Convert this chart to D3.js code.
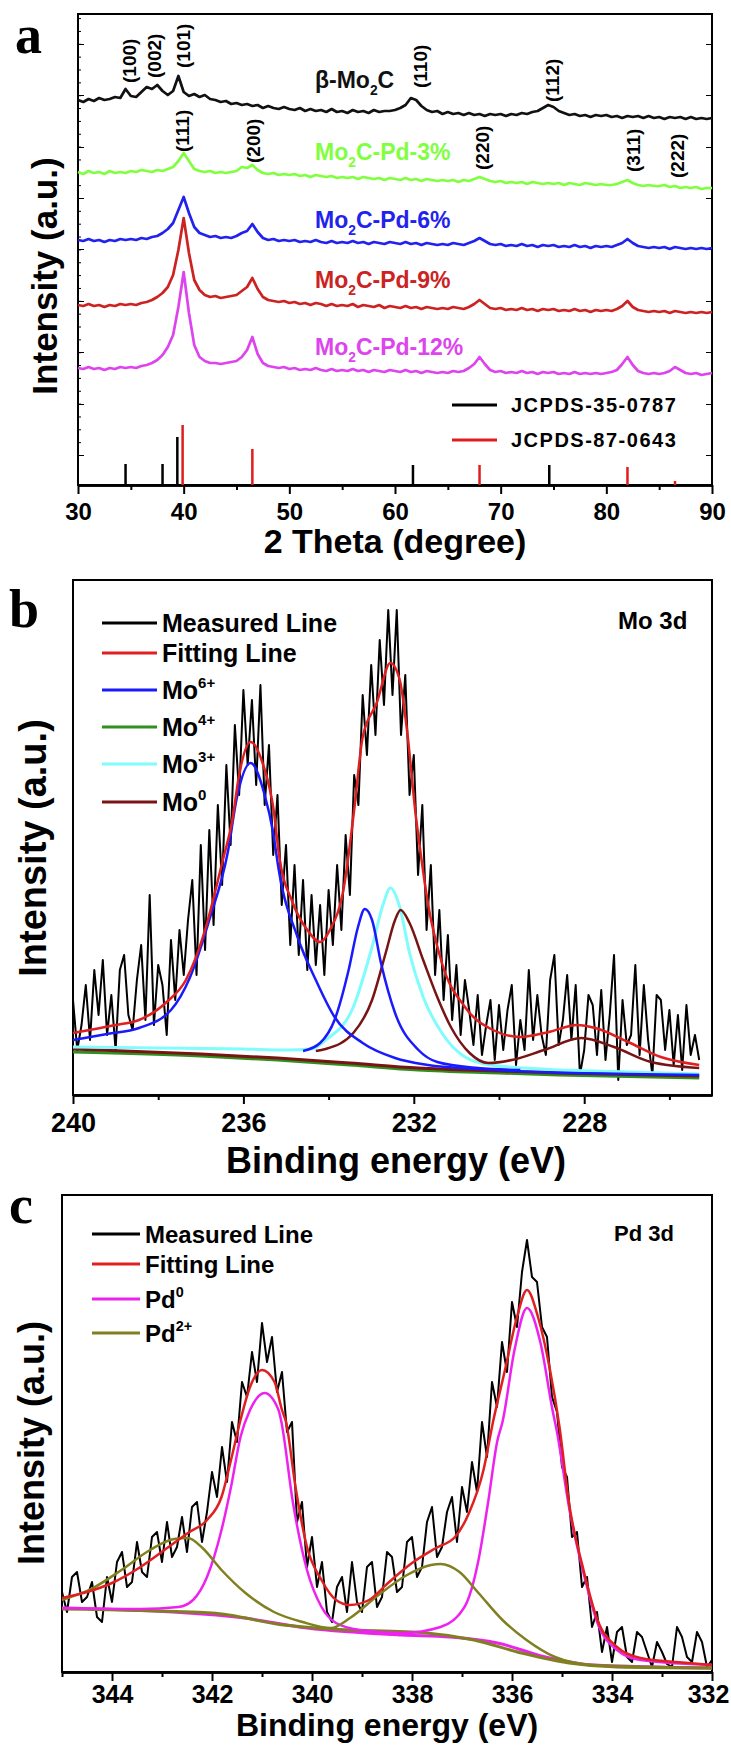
<!DOCTYPE html>
<html>
<head>
<meta charset="utf-8">
<script src="https://cdn.jsdelivr.net/npm/d3@7/dist/d3.min.js"></script>
<style>
body { margin: 0; background: #fff; }
svg text { font-family: "Liberation Sans", Arial, sans-serif; font-weight: bold; }
</style>
</head>
<body>
<div id="chart"></div>
<script>
// ---------- panel a : XRD ----------
const xrdTheta = d3.range(30, 90.25, 0.5);   // 0.5 degree sampling
const xrdBeta = [385,383,386,384,387,385,386,388,387,396, 389,388,393,398,396,400,394,390,394,409,
  393,389,391,388,390,386,385,383,384,381, 382,380,381,379,380,377,379,377,376,378,
  376,375,377,374,376,374,375,373,376,373, 374,372,375,373,374,372,375,373,374,374,
  375,377,380,387,385,379,375,373,374,371, 373,371,372,370,372,370,371,369,371,370,
  371,369,371,370,372,371,373,374,377,380, 378,374,372,370,371,369,370,368,370,369,
  370,368,369,367,369,368,369,367,369,367, 368,366,368,367,368,366,368,366,367,366, 367];
const xrdPd3 = [313,311,314,312,313,311,314,312,313,312, 314,313,315,314,313,315,314,316,318,324,
  332,324,316,314,313,314,312,313,312,313, 314,318,317,320,315,312,311,312,310,311,
  310,311,309,310,308,310,309,308,309,307, 308,307,308,306,308,307,306,307,305,307,
  306,305,307,305,306,304,306,305,304,305, 304,305,303,305,304,306,308,306,304,303,
  304,302,303,302,303,301,303,302,301,302, 301,302,300,302,301,300,302,301,300,301,
  300,300,301,303,305,302,300,299,300,299, 299,300,298,299,297,298,297,298,296,297, 297];
const xrdPd6 = [245,244,246,244,245,243,245,244,246,245, 246,245,247,246,248,249,252,256,262,275,
  288,272,258,252,250,248,249,247,248,247, 249,252,254,261,253,247,245,246,244,245,
  244,245,243,244,243,245,243,242,244,242, 243,242,244,242,243,241,243,242,241,243,
  242,241,243,241,242,240,242,241,240,241, 240,242,241,240,242,244,247,244,241,240,
  241,239,240,239,241,239,240,238,240,239, 240,238,239,238,240,238,239,237,239,238,
  239,238,240,242,246,242,239,238,237,238, 237,238,236,238,237,236,237,236,237,236, 237];
const xrdPd9 = [180,179,181,179,180,178,180,179,181,180, 181,180,182,183,185,188,192,198,210,235,
  267,232,205,195,190,188,189,187,188,189, 190,194,198,207,196,188,185,184,183,184,
  182,183,181,182,180,182,181,179,181,179, 180,179,181,178,180,179,178,180,177,179,
  178,177,179,177,178,176,178,177,176,177, 176,178,177,176,178,181,185,181,177,176,
  177,175,176,175,177,175,176,174,176,175, 176,174,175,174,176,174,175,173,175,174,
  175,174,176,179,184,178,175,174,173,174, 173,174,172,174,173,172,173,172,173,172, 173];
const xrdPd12 = [117,116,118,116,117,115,117,116,118,117, 118,117,119,120,122,125,130,138,150,178,
  213,172,140,128,124,122,122,121,122,123, 124,128,135,148,131,122,119,118,117,118,
  116,117,115,116,115,117,115,114,116,114, 115,114,116,114,115,113,115,114,113,115,
  114,113,115,113,114,112,114,113,112,113, 112,114,113,114,117,121,128,121,115,113,
  114,112,113,112,114,112,113,111,113,112, 113,111,112,111,113,111,112,111,112,111,
  112,113,115,121,128,120,114,112,111,112, 111,112,114,118,115,112,111,112,110,111, 112];
const xrdNames = ["β-Mo2C", "Mo2C-Pd-3%", "Mo2C-Pd-6%", "Mo2C-Pd-9%", "Mo2C-Pd-12%"];
const xrdColors = ["#111111", "#80ff40", "#2222ee", "#cc2222", "#dd44ee"];
const refBlackTheta = [34.5, 38.0, 39.4, 61.7, 74.6];
const refBlackHeight = [21, 21, 48, 20, 20];
const refRedTheta = [39.9, 46.5, 68.0, 82.0, 86.5];
const refRedHeight = [60, 36, 20, 18, 4];
const refNames = ["JCPDS-35-0787", "JCPDS-87-0643"];
const millerA = [["(100)", 34.9, 402], ["(002)", 37.2, 407], ["(101)", 40.0, 417], ["(110)", 62.4, 397],
  ["(112)", 74.9, 383], ["(111)", 39.9, 333], ["(200)", 46.6, 322], ["(220)", 68.3, 315],
  ["(311)", 82.6, 313], ["(222)", 86.7, 307]];
const xrdTicks = [30, 40, 50, 60, 70, 80, 90];

// ---------- panel b : Mo 3d ----------
const moE = d3.range(240, 225.25, -0.1);   // 0.1 eV sampling
const moMeasured = [95,45,70,110,55,125,80,135,60,100, 45,125,140,80,65,115,150,75,200,70,
  130,110,60,155,95,165,120,175, 215,120, 250,145,265,170,290,210,330,250,370,300,
  405,330,395,310,410,290,350,240,300,190, 250,150,230,140,215,125,200,130,190,120,
  205,150,230,165,260,200,320,290,400,340, 430,360,455,390,485,400,485,360,420,300,
  340,220,290,165,230,120,185,95,160,75,
  130,60,115,85,50,100,40,70,95,35, 90,45,85,110,30,75,45,125,55,100,
  60,40,115,140,50,75,120,55,110,20, 45,100,90,40,105,35,80,140,15,95,
  50,60,130,40,110,55,20,100,95,45, 85,30,80,25,90,40,60,35];
const moFit = [[240,62],[239,70],[238.45,75],[237.8,93],[237.35,115],[236.9,165],[236.5,232],[236.26,275],
  [236.1,320],[235.83,353],[235.55,332],[235.28,282],[235.17,242],[234.84,192],[234.5,165],[234.2,153],
  [233.97,165],[233.64,208],[233.4,285],[233.2,358],[232.87,392],[232.55,432],[232.33,415],[232.16,365],
  [231.95,278],[231.84,242],[231.67,192],[231.34,132],[230.8,88],[230.14,65],[229.5,58],[228.83,63],
  [228.17,70],[227.74,67],[226.97,53],[226.2,38],[225.3,30]];
const moSix = [[240,55],[239.2,61],[238.45,67],[237.7,85],[237.25,118],[236.8,175],[236.37,242],[236.15,298],
  [235.83,332],[235.5,300],[235.3,262],[235.17,225],[234.73,158],[234.3,115],[233.86,78],[233.2,52],
  [232.44,37],[231.67,30],[230.5,26],[229,23],[227,21],[225.3,20]];
const moSixB = [[234.6,44],[234.2,52],[233.86,75],[233.53,125],[233.31,168],[233.15,186],[232.98,175],
  [232.77,132],[232.44,82],[231.89,45],[231.45,33],[230.5,27],[229.5,25]];
const moFour = [[240,43],[237,39],[235.2,35],[233.5,30],[231.9,25],[230,22],[228.6,20],[225.3,17]];
const moThree = [[240,48],[238,47],[236,46],[235,45],[234.4,46],[234.07,55],[233.42,88],[232.98,148],
  [232.71,192],[232.55,207],[232.33,188],[232.1,142],[231.78,98],[231.34,62],[230.8,38],[230.2,30],
  [229,26],[227,23],[225.3,21]];
const moZeroBg = [[240,46],[237,41],[235.2,37],[233.5,32],[231.9,27],[230,24],[228.6,22],[225.3,19]];
const moZero = [[234.3,44],[234.07,46],[233.42,62],[232.98,95],[232.66,142],[232.44,175],[232.31,185],
  [232.1,172],[231.78,135],[231.45,98],[231.13,68],[230.69,42],[230.25,32],[229.7,35],[228.94,45],
  [228.07,57],[227.3,48],[226.43,33],[225.3,27]];
const moLegend = ["Measured Line", "Fitting Line", "Mo^6+", "Mo^4+", "Mo^3+", "Mo^0"];
const moColors = ["#000000", "#e02020", "#1a1aff", "#2f8f1f", "#80fcfc", "#781414"];
const moTicks = [240, 236, 232, 228];
const moMinor = [238, 234, 230, 226];

// ---------- panel c : Pd 3d ----------
const pdE = d3.range(345, 331.95, -0.1);   // 0.1 eV sampling
const pdMeasured = [80,60,95,100,70,75,90,55,50,95, 70,110,120,85,90,130,100,95,135,140,
  110,150,115,125,155,120,165,170,130,160, 200,175,225,190,250,230,290,275,320,290,
  349,310,335,280,300,240,250,150,170,105, 135,85,110,60,50,85,95,60,110,70,
  60,105,110,65,75,120,115,80,85,130, 135,95,105,150,165,115,125,160,175,130,
  185,160,210,180,250,215,290,265,330,300, 370,345,400,432,395,390,345,335,275,260,
  205,195,135,140, 85,95,45,60,20,45,10,40,45,15, 10,40,35,20,5,30,20,8,5,45,
  35,15,10,40,30,5,12];
const pdFit = [[345,74],[344.5,80],[344,89],[343.43,105],[342.95,122],[342.48,139],[342.1,152],[341.81,175],
  [341.62,212],[341.43,252],[341.24,285],[341,302],[340.75,290],[340.6,262],[340.52,250],[340.33,185],
  [340.1,125],[339.81,92],[339.52,72],[339.24,67],[338.86,72],[338.48,89],[338,109],[337.52,124],
  [337.14,135],[336.86,159],[336.57,202],[336.38,250],[336.14,302],[335.9,355],[335.7,382],[335.48,355],
  [335.24,302],[335.05,245],[334.86,169],[334.57,102],[334.29,52],[333.9,25],[333.43,14],[332.48,9],[332,7]];
const pdZero = [[345,64],[343.43,63],[342.67,65],[342.38,72],[342.1,95],[341.81,142],[341.62,185],[341.43,235],
  [341.24,262],[340.95,279],[340.67,262],[340.62,252],[340.38,169],[340.1,102],[339.81,65],[339.52,49],
  [339.05,42],[338.19,39],[337.43,45],[336.95,65],[336.67,112],[336.48,169],[336.29,232],[336.19,250],
  [335.95,322],[335.7,364],[335.43,329],[335.19,262],[335.1,240],[334.86,165],[334.57,99],[334.29,49],
  [333.9,22],[333.43,12],[332,7]];
const pdZeroBg = [[345,64],[341.52,55],[340.1,44],[338.2,37],[337.24,35],[336.29,29],[335.33,15],[334.38,7],[332,4]];
const pdTwo = [[345,72],[344.38,84],[343.81,102],[343.24,122],[342.76,133],[342.48,134],[342.19,124],[341.81,102],
  [341.33,79],[340.76,60],[340.19,50],[339.62,44],[339.24,54],[338.67,77],[338.1,97],[337.62,107],
  [337.43,108],[337.05,100],[336.67,79],[336.19,52],[335.71,32],[335.14,15],[334.38,7],[332,4]];
const pdTwoBg = [[345,63],[342,59],[340.57,47],[339.62,43],[337.71,39],[336.76,32],[335.81,19],[334.86,9],[333.9,5],[332,4]];
const pdLegend = ["Measured Line", "Fitting Line", "Pd^0", "Pd^2+"];
const pdColors = ["#000000", "#e02020", "#ee22ee", "#808020"];
const pdTicks = [344, 342, 340, 338, 336, 334, 332];
const pdMinor = [345, 343, 341, 339, 337, 335, 333];

function createVisualization() {
    const svg = d3.select("#chart").append("svg")
        .attr("width", 731).attr("height", 1745);

    // text with sub/superscript parts: segs = [[text, 0|1|-1]]
    function rich(text, segs, size) {
        let cur = 0;
        segs.forEach(function(s) {
            const off = s[1] === 1 ? -0.45 * size : s[1] === -1 ? 0.32 * size : 0;
            text.append("tspan").attr("dy", off - cur)
                .style("font-size", (s[1] ? 0.6 * size : size) + "px").text(s[0]);
            cur = off;
        });
    }

    function makePanel(left, top, w, h, xDom, yMax) {
        const g = svg.append("g").attr("transform", "translate(" + left + "," + top + ")");
        const x = d3.scaleLinear().domain(xDom).range([0, w]);
        const y = d3.scaleLinear().domain([0, yMax]).range([h, 0]);
        return { g: g, x: x, y: y, w: w, h: h };
    }

    function frame(p) {
        p.g.append("rect").attr("width", p.w).attr("height", p.h)
            .attr("fill", "none").attr("stroke", "#000").attr("stroke-width", 2);
    }

    function bottomAxis(p, majors, minors, fontSize, pad) {
        const ax = p.g.append("g").attr("transform", "translate(0," + p.h + ")");
        ax.append("g").call(d3.axisBottom(p.x).tickValues(minors).tickSize(5).tickSizeOuter(0).tickFormat(""));
        ax.append("g").call(d3.axisBottom(p.x).tickValues(majors).tickSize(9).tickSizeOuter(0).tickPadding(pad))
            .selectAll("text").style("font-size", fontSize + "px").attr("fill", "#000");
        ax.selectAll(".domain").attr("stroke-width", 2.5);
        ax.selectAll(".tick line").attr("stroke-width", 2);
        return ax;
    }

    function curve(p, data, color, width, smooth) {
        const line = d3.line().x(function(d) { return p.x(d[0]); }).y(function(d) { return p.y(d[1]); });
        if (smooth) line.curve(d3.curveMonotoneX);
        p.g.append("path").datum(data).attr("d", line)
            .attr("fill", "none").attr("stroke", color).attr("stroke-width", width)
            .attr("stroke-linejoin", "round");
    }

    function legend(p, names, colors, x0, x1, ys, fontSize) {
        names.forEach(function(n, i) {
            p.g.append("line").attr("x1", x0).attr("x2", x1).attr("y1", ys[i]).attr("y2", ys[i])
                .attr("stroke", colors[i]).attr("stroke-width", 3);
            const t = p.g.append("text").attr("x", x1 + 5).attr("y", ys[i] + fontSize * 0.36)
                .style("font-size", fontSize + "px");
            const parts = n.split("^");
            rich(t, parts.length > 1 ? [[parts[0], 0], [parts[1], 1]] : [[n, 0]], fontSize);
        });
    }

    function panelLetter(x, y, s) {
        svg.append("text").attr("x", x).attr("y", y).text(s)
            .style("font-family", "'Liberation Serif', 'Times New Roman', serif")
            .style("font-size", "54px").style("font-weight", "bold");
    }

    function yTitle(x, y, size) {
        svg.append("text").attr("transform", "translate(" + x + "," + y + ")rotate(-90)")
            .attr("text-anchor", "middle").attr("dominant-baseline", "central")
            .style("font-size", size + "px").text("Intensity (a.u.)");
    }

    function xTitle(x, y, size, s) {
        svg.append("text").attr("x", x).attr("y", y).attr("text-anchor", "middle")
            .style("font-size", size + "px").text(s);
    }

    // ===== a =====
    const pa = makePanel(78, 14, 634, 471, [30, 90], 471);
    const yTicksA = [30, 81, 133, 184, 236, 287, 338, 390, 441];
    pa.g.append("g").call(d3.axisLeft(pa.y).tickValues(d3.range(30, 471, 12.85)).tickSize(-3).tickFormat("").tickSizeOuter(0));
    pa.g.append("g").call(d3.axisLeft(pa.y).tickValues(yTicksA).tickSize(-6).tickFormat("").tickSizeOuter(0));
    pa.g.append("g").attr("transform", "translate(" + pa.w + ",0)")
        .call(d3.axisRight(pa.y).tickValues(yTicksA).tickSize(-6).tickFormat("").tickSizeOuter(0));
    pa.g.selectAll(".domain").remove();
    frame(pa);
    bottomAxis(pa, xrdTicks, [35, 45, 55, 65, 75, 85], 24, 9);

    [xrdBeta, xrdPd3, xrdPd6, xrdPd9, xrdPd12].forEach(function(vals, k) {
        curve(pa, xrdTheta.map(function(t, i) { return [t, vals[i]]; }), xrdColors[k], 2.7, false);
    });

    const labelY = [88, 160, 228, 288, 355];
    xrdNames.forEach(function(n, k) {
        const parts = n.split("Mo2C");
        const t = svg.append("text").attr("x", 315).attr("y", labelY[k])
            .attr("fill", xrdColors[k]).style("font-size", "23px");
        rich(t, [[parts[0] + "Mo", 0], ["2", -1], ["C" + parts[1], 0]], 23);
    });

    millerA.forEach(function(m) {
        pa.g.append("text")
            .attr("transform", "translate(" + pa.x(m[1]) + "," + pa.y(m[2]) + ")rotate(-90)")
            .attr("dominant-baseline", "central").style("font-size", "19px").text(m[0]);
    });

    refBlackTheta.forEach(function(t, i) {
        pa.g.append("line").attr("x1", pa.x(t)).attr("x2", pa.x(t)).attr("y1", pa.y(0)).attr("y2", pa.y(refBlackHeight[i]))
            .attr("stroke", "#000").attr("stroke-width", 2.5);
    });
    refRedTheta.forEach(function(t, i) {
        pa.g.append("line").attr("x1", pa.x(t)).attr("x2", pa.x(t)).attr("y1", pa.y(0)).attr("y2", pa.y(refRedHeight[i]))
            .attr("stroke", "#e01c1c").attr("stroke-width", 2.5);
    });
    refNames.forEach(function(n, i) {
        const yy = 391 + i * 35;
        pa.g.append("line").attr("x1", 374).attr("x2", 419).attr("y1", yy).attr("y2", yy)
            .attr("stroke", i ? "#e01c1c" : "#000").attr("stroke-width", 3);
        pa.g.append("text").attr("x", 433).attr("y", yy + 7).style("font-size", "20px")
            .style("letter-spacing", "1.5px").text(n);
    });

    panelLetter(15, 53, "a");
    yTitle(44, 276, 35);
    xTitle(395, 553, 34, "2 Theta (degree)");

    // ===== b =====
    const pb = makePanel(73, 580, 639, 515, [240, 225], 515);
    frame(pb);
    bottomAxis(pb, moTicks, moMinor, 27, 9);
    curve(pb, moE.map(function(e, i) { return [e, moMeasured[i]]; }), moColors[0], 2, false);
    curve(pb, moFour, moColors[3], 3, true);
    curve(pb, moZeroBg, moColors[5], 3, true);
    curve(pb, moThree, moColors[4], 3, true);
    curve(pb, moZero, moColors[5], 2.5, true);
    curve(pb, moSix, moColors[2], 2.5, true);
    curve(pb, moSixB, moColors[2], 2.5, true);
    curve(pb, moFit, moColors[1], 2.5, true);
    legend(pb, moLegend, moColors, 29, 84, [43, 73, 110, 147, 184, 222], 25);
    pb.g.append("text").attr("x", 545).attr("y", 49).style("font-size", "24px").text("Mo 3d");

    panelLetter(9, 627, "b");
    yTitle(33, 848, 38);
    xTitle(396, 1173, 36, "Binding energy (eV)");

    // ===== c =====
    const pc = makePanel(62, 1195, 650, 477, [345, 332], 477);
    frame(pc);
    const axc = bottomAxis(pc, pdTicks, pdMinor, 25, 4);
    // keep the last label inside the page edge
    axc.selectAll(".tick text").filter(function(d) { return d === 332; }).attr("dx", -4);
    curve(pc, pdE.map(function(e, i) { return [e, pdMeasured[i]]; }), pdColors[0], 2, false);
    curve(pc, pdZeroBg, pdColors[2], 3, true);
    curve(pc, pdTwoBg, pdColors[3], 3, true);
    curve(pc, pdZero, pdColors[2], 2.5, true);
    curve(pc, pdTwo, pdColors[3], 2.5, true);
    curve(pc, pdFit, pdColors[1], 2.5, true);
    legend(pc, pdLegend, pdColors, 30, 78, [39, 69, 104, 138], 24);
    pc.g.append("text").attr("x", 552).attr("y", 46).style("font-size", "22px").text("Pd 3d");

    panelLetter(9, 1223, "c");
    yTitle(31, 1443, 36);
    xTitle(387, 1736, 32, "Binding energy (eV)");
}

document.addEventListener("DOMContentLoaded", createVisualization);
</script>
</body>
</html>
